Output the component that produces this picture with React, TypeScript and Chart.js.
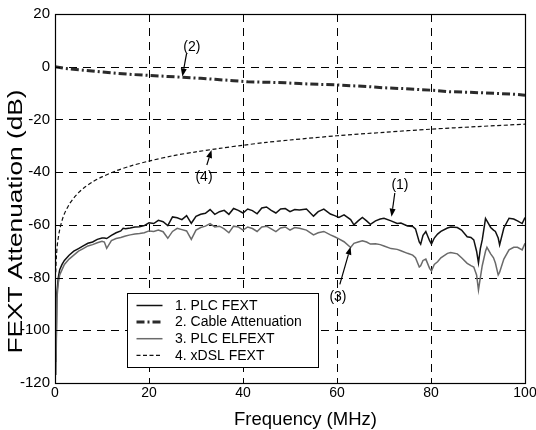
import React, { useEffect, useRef } from "react";
import { Chart, registerables } from "chart.js";

Chart.register(...registerables);

// ---------- data ----------
const xTickStep = 20;
const yTickStep = 20;
const xMin = 0, xMax = 100;
const yMin = -120, yMax = 20;

const seriesLabels = ["1. PLC FEXT", "2. Cable Attenuation", "3. PLC ELFEXT", "4. xDSL FEXT"];

const plcFreq = [
  0.05, 0.2, 0.4, 0.7, 1, 1.5, 2, 3, 4, 5, 6, 7, 8, 9, 10,
  10.5, 11, 12, 13, 14, 14.5, 15, 16, 17, 18, 19, 20,
  21, 22, 23, 24, 25, 26, 27, 28, 29, 30, 31, 32, 33, 34,
  35, 36, 37, 38, 39, 40, 41, 42, 43, 44, 45, 46, 47, 48, 49, 50, 51, 52,
  53.5, 55, 56, 57.2, 58.6, 59.5, 60.4, 61.5, 62.9, 63.6, 64.5,
  65.4, 66.3, 67.1, 68.2, 69.2, 70, 71.5, 72.8, 73.6, 75, 76.1, 76.7,
  77.5, 77.8, 78.3, 78.9, 79.7, 80.1, 80.7, 81.4, 82.1, 83.5, 84.2, 85.6, 86.5, 87.7, 88.5, 89.1,
  89.7, 90.1, 90.5, 90.9, 91.6, 91.9, 92.7, 93.3, 93.7, 94.3, 94.6, 95.5, 96.6, 97.6, 98.4, 99.4, 100,
];

const plcFext = [
  -90, -112, -86, -80, -77, -75, -73.5, -71.5, -70, -69, -68, -67, -66.5, -65.5, -65,
  -65, -65.2, -64, -63, -62.3, -61.3, -61.5, -61.2, -60.8, -60.7, -60.3, -59.2,
  -59.5, -58.3, -58.8, -60.3, -57, -57.3, -58, -56.5, -59.4, -56.8, -56, -55.6, -54.2, -56,
  -55, -54.5, -56, -53.8, -54.5, -55.5, -54, -54.6, -55.8, -53.6, -53.2, -54.5, -55.5, -54, -53.8, -55, -54.2, -54.4,
  -54, -56.7, -55, -54, -55.9, -56.5, -57.2, -56.2, -58, -60, -58.5,
  -57.2, -58.5, -59.8, -58.5, -57.8, -57.5, -58.5, -59.5, -59.3, -60.4, -60.6, -61.5,
  -66.5, -67.3, -64, -62.5, -66, -67.3, -65, -63.5, -62.5, -61.2, -60.8, -61, -62, -64.5, -64.8, -65.7,
  -70, -74.4, -69, -65.7, -57.6, -58.5, -61, -62, -62.5, -65, -67.6, -61.2, -57.5, -57.8, -58.5, -59.5, -57.2,
];

const plcElfext = [
  -95, -117, -88, -82, -79, -77, -75, -73, -71.5, -70, -69, -68, -67.5, -66.8, -66.2,
  -66.5, -68.9, -66, -65.2, -64.8, -64.5, -64.2, -63.8, -63.5, -63.3, -63, -62.3,
  -62.5, -62, -62.6, -65.1, -62.5, -61.3, -61.8, -62.3, -65.5, -62, -61, -60.5, -59.5, -60.8,
  -60.5, -61.5, -63, -60.5, -60.8, -62, -60.8, -61.4, -62.5, -60.8, -60.5, -61.5, -62.6, -61.2, -60.8, -62, -61, -61.3,
  -62, -63.8, -63, -62.5, -63.8, -64.5, -65.3, -66.4, -68.6, -67, -66.5,
  -66, -66.5, -67.3, -67.2, -67.5, -68, -69, -69.3, -69.8, -70.8, -71.5, -72.5,
  -76, -75.5, -73.5, -73, -76.5, -77.5, -75, -74, -72.5, -70.8, -70.5, -71, -72.5, -74.6, -75.5, -76,
  -79, -84.7, -80, -75.5, -70, -68.5, -71, -72.5, -74.5, -79, -78, -73, -69.5, -68.5, -68.5, -69.5, -67,
];

const cableFreq = [0, 2, 6, 10, 13, 17, 20, 24, 27, 31, 34, 38, 41, 45, 49, 52, 56, 60, 63, 67, 70, 74, 77, 81, 84, 88, 91, 95, 98, 100];
const cableAtt = [0, -0.6, -1.3, -2, -2.5, -3, -3.3, -3.7, -4, -4.4, -4.8, -5.3, -5.7, -5.9, -6.1, -6.4, -6.7, -6.9, -7.2, -7.6, -8, -8.3, -8.6, -9, -9.5, -9.7, -9.9, -10.2, -10.5, -10.8];

const xdslFreq = [0.15, 0.3, 0.5, 0.7, 1, 1.5, 2, 3, 4, 5, 6, 8, 10, 13, 16, 20, 25, 30, 35, 40, 45, 50, 60, 70, 80, 90, 100];
const xdslFext = [-78, -72, -67.5, -64.9, -61.8, -58.3, -55.8, -52.3, -49.8, -47.8, -46.2, -43.7, -41.8, -39.5, -37.7, -35.8, -33.8, -32.3, -31, -29.8, -28.7, -27.8, -26.2, -24.9, -23.7, -22.7, -21.8];

// callouts: label, text anchor, arrow tail and head (data units)
const calloutLabels = ["(1)", "(2)", "(3)", "(4)"];
const calloutText = [[73.4, -44.9], [29.1, 7.6], [60.2, -87.3], [31.7, -41.8]];
const calloutTail = [[72.3, -47.9], [28.0, 5.1], [60.6, -82.6], [32.3, -37.3]];
const calloutHead = [[71.6, -56.9], [27.1, -3.7], [62.9, -68.3], [33.3, -31.6]];

const xTitle = "Frequency (MHz)";
const yTitle = "FEXT Attenuation (dB)";

const FONT = '"Liberation Sans", Arial, Helvetica, sans-serif';

function zip(xs: number[], ys: number[]) {
  return xs.map((x, i) => ({ x, y: ys[i] }));
}

const decorPlugin = {
  id: "decor",
  beforeDatasetsDraw(chart: any) {
    const { ctx, chartArea: a, scales } = chart;
    const xs = scales.x, ys = scales.y;
    ctx.save();
    ctx.strokeStyle = "#000";
    ctx.lineWidth = 1;
    ctx.setLineDash([8, 6]);
    xs.ticks.forEach((t: any) => {
      const px = Math.round(xs.getPixelForValue(t.value)) + 0.5;
      if (px <= a.left + 1 || px >= a.right - 1) return;
      ctx.beginPath();
      ctx.moveTo(px, a.top);
      ctx.lineTo(px, a.bottom);
      ctx.stroke();
    });
    ys.ticks.forEach((t: any) => {
      const py = Math.round(ys.getPixelForValue(t.value)) + 0.5;
      if (py <= a.top + 1 || py >= a.bottom - 1) return;
      ctx.beginPath();
      ctx.moveTo(a.left, py);
      ctx.lineTo(a.right, py);
      ctx.stroke();
    });
    ctx.restore();
  },
  afterDraw(chart: any) {
    const { ctx, chartArea: a, scales } = chart;
    const xs = scales.x, ys = scales.y;
    ctx.save();
    // frame
    ctx.setLineDash([]);
    ctx.strokeStyle = "#000";
    ctx.lineWidth = 1.2;
    ctx.strokeRect(Math.round(a.left) + 0.5, Math.round(a.top) + 0.5, Math.round(a.right - a.left), Math.round(a.bottom - a.top));
    // inward ticks
    ctx.lineWidth = 1;
    const tl = 5;
    xs.ticks.forEach((t: any) => {
      const px = Math.round(xs.getPixelForValue(t.value)) + 0.5;
      ctx.beginPath();
      ctx.moveTo(px, a.bottom); ctx.lineTo(px, a.bottom - tl);
      ctx.moveTo(px, a.top); ctx.lineTo(px, a.top + tl);
      ctx.stroke();
    });
    ys.ticks.forEach((t: any) => {
      const py = Math.round(ys.getPixelForValue(t.value)) + 0.5;
      ctx.beginPath();
      ctx.moveTo(a.left, py); ctx.lineTo(a.left + tl, py);
      ctx.moveTo(a.right, py); ctx.lineTo(a.right - tl, py);
      ctx.stroke();
    });

    // legend
    const lx = Math.round(a.left + 72) + 0.5, ly = Math.round(a.top + 279) + 0.5, lw = 191, lh = 74;
    ctx.fillStyle = "#fff";
    ctx.fillRect(lx, ly, lw, lh);
    ctx.strokeStyle = "#000";
    ctx.lineWidth = 1;
    ctx.strokeRect(lx, ly, lw, lh);
    const dsets = chart.data.datasets;
    [0, 1, 2, 3].forEach((idx, row) => {
      const ds = dsets.find((d: any) => d.label === seriesLabels[idx]);
      const cy = ly + 12 + row * 16.6;
      ctx.save();
      ctx.strokeStyle = ds.borderColor;
      ctx.lineWidth = ds.borderWidth;
      ctx.setLineDash(ds.borderDash || []);
      ctx.beginPath();
      ctx.moveTo(lx + 9, cy);
      ctx.lineTo(lx + 35, cy);
      ctx.stroke();
      ctx.restore();
      ctx.fillStyle = "#000";
      ctx.font = `14px ${FONT}`;
      ctx.textAlign = "left";
      ctx.textBaseline = "middle";
      ctx.fillText(seriesLabels[idx], lx + 47.5, cy + 0.5);
    });

    // callouts
    ctx.fillStyle = "#000";
    ctx.strokeStyle = "#000";
    ctx.lineWidth = 1.2;
    calloutLabels.forEach((lab, i) => {
      const tx = xs.getPixelForValue(calloutText[i][0]);
      const ty = ys.getPixelForValue(calloutText[i][1]);
      const sx = xs.getPixelForValue(calloutTail[i][0]);
      const sy = ys.getPixelForValue(calloutTail[i][1]);
      const hx = xs.getPixelForValue(calloutHead[i][0]);
      const hy = ys.getPixelForValue(calloutHead[i][1]);
      ctx.font = `14px ${FONT}`;
      ctx.textAlign = "center";
      ctx.textBaseline = "middle";
      ctx.fillText(lab, tx, ty);
      const ang = Math.atan2(hy - sy, hx - sx);
      const hl = 8, hw = 3;
      const bx = hx - hl * Math.cos(ang), by = hy - hl * Math.sin(ang);
      ctx.beginPath();
      ctx.moveTo(sx, sy);
      ctx.lineTo(bx, by);
      ctx.stroke();
      ctx.beginPath();
      ctx.moveTo(hx, hy);
      ctx.lineTo(bx + hw * Math.sin(ang), by - hw * Math.cos(ang));
      ctx.lineTo(bx - hw * Math.sin(ang), by + hw * Math.cos(ang));
      ctx.closePath();
      ctx.fill();
    });

    // axis titles
    ctx.fillStyle = "#000";
    ctx.font = `18.5px ${FONT}`;
    ctx.textAlign = "center";
    ctx.textBaseline = "alphabetic";
    ctx.fillText(xTitle, (a.left + a.right) / 2 + 15.5, a.bottom + 42);
    ctx.save();
    ctx.translate(a.left - 33.5, (a.top + a.bottom) / 2 + 23);
    ctx.rotate(-Math.PI / 2);
    ctx.scale(1.25, 1);
    ctx.font = `21px ${FONT}`;
    ctx.fillText(yTitle, 0, 0);
    ctx.restore();
    ctx.restore();
  },
};

export default function App() {
  const ref = useRef<HTMLCanvasElement | null>(null);
  useEffect(() => {
    document.body.style.margin = "0";
    const canvas = ref.current!;
    Chart.defaults.font.family = FONT;
    const chart = new Chart(canvas, {
      type: "line",
      data: {
        datasets: [
          {
            label: seriesLabels[2],
            data: zip(plcFreq, plcElfext),
            borderColor: "#6a6a6a",
            borderWidth: 1.5,
            pointRadius: 0,
            tension: 0,
            fill: false,
            order: 0,
          },
          {
            label: seriesLabels[0],
            data: zip(plcFreq, plcFext),
            borderColor: "#111111",
            borderWidth: 1.5,
            pointRadius: 0,
            tension: 0,
            fill: false,
            order: 1,
          },
          {
            label: seriesLabels[1],
            data: zip(cableFreq, cableAtt),
            borderColor: "#2b2b2b",
            borderWidth: 3,
            borderDash: [8, 3, 2, 3],
            pointRadius: 0,
            tension: 0,
            fill: false,
            order: 2,
          },
          {
            label: seriesLabels[3],
            data: zip(xdslFreq, xdslFext),
            borderColor: "#111111",
            borderWidth: 1.2,
            borderDash: [4, 2.5],
            pointRadius: 0,
            tension: 0.3,
            fill: false,
            order: 3,
          },
        ] as any,
      },
      options: {
        animation: false,
        responsive: false,
        maintainAspectRatio: false,
        layout: { padding: { top: 14, right: 11, left: 0, bottom: 0 } },
        plugins: {
          legend: { display: false },
          tooltip: { enabled: false },
          title: { display: false },
        },
        scales: {
          x: {
            type: "linear",
            min: xMin,
            max: xMax,
            ticks: {
              stepSize: xTickStep,
              color: "#000",
              font: { size: 14, family: FONT },
              padding: 2,
              maxRotation: 0,
              autoSkip: false,
            },
            grid: { display: false, drawTicks: false },
            border: { display: false },
            afterFit: (s: any) => {
              s.height = 47;
              s.paddingLeft = 0;
              s.paddingRight = 0;
            },
          },
          y: {
            type: "linear",
            min: yMin,
            max: yMax,
            ticks: {
              stepSize: yTickStep,
              color: "#000",
              font: { size: 15, family: FONT },
              padding: 5,
            },
            grid: { display: false, drawTicks: false },
            border: { display: false },
            afterFit: (s: any) => {
              s.width = 55;
              s.paddingTop = 0;
              s.paddingBottom = 0;
            },
          },
        },
      } as any,
      plugins: [decorPlugin],
    });
    return () => chart.destroy();
  }, []);
  return (
    <div style={{ position: "fixed", left: 0, top: 0, width: 536, height: 430, background: "#fff" }}>
      <canvas ref={ref} width={536} height={430} style={{ display: "block" }} />
    </div>
  );
}
